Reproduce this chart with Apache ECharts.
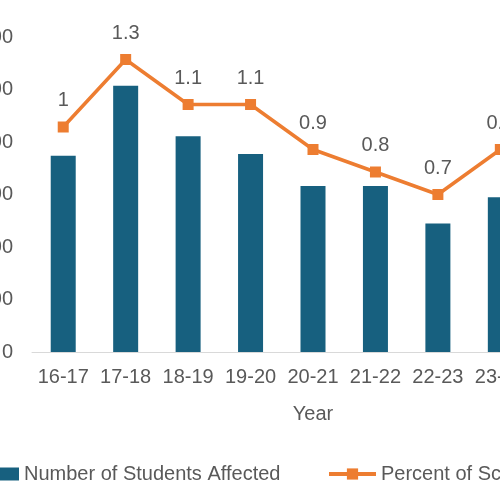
<!DOCTYPE html>
<html>
<head>
<meta charset="utf-8">
<script src="https://cdn.jsdelivr.net/npm/echarts@6/dist/echarts.min.js"></script>
<style>
  html, body { margin: 0; padding: 0; background: #fff; overflow: hidden; }
  #chart { width: 680px; height: 500px; }
</style>
</head>
<body>
<div id="chart"></div>
<script>
// data (24-25 is cropped out of the reference, left empty)
var years = ['16-17', '17-18', '18-19', '19-20', '20-21', '21-22', '22-23', '23-24', '24-25'];
var studentsAffected = [374, 507, 411, 377, 316, 316, 245, 295, null];
var percentMissed = [1, 1.3, 1.1, 1.1, 0.9, 0.8, 0.7, 0.9, null];
var leftTicks = { min: 0, max: 600, interval: 100 };
var rightTicks = { min: 0, max: 1.4, interval: 0.2 };

var textCol = '#595959';
var font = '"Liberation Sans", Arial, sans-serif';

var chart = echarts.init(document.getElementById('chart'));

var option = {
  animation: false,
  textStyle: { fontFamily: font, color: textCol },
  grid: { left: 32, top: 37, width: 562, height: 315, containLabel: false, outerBoundsMode: 'none' },
  legend: [
    {
      data: ['Number of Students Affected'],
      left: -3, top: 464, padding: 0,
      itemWidth: 22, itemHeight: 13,
      icon: 'rect',
      textStyle: { fontFamily: font, fontSize: 20, color: textCol }
    },
    {
      data: ['Percent of School Days Missed'],
      left: 327, top: 464, padding: 0,
      itemWidth: 47, itemHeight: 14,
      lineStyle: { width: 4 },
      textStyle: { fontFamily: font, fontSize: 20, color: textCol }
    }
  ],
  xAxis: {
    type: 'category',
    data: years,
    name: 'Year',
    nameLocation: 'middle',
    nameGap: 52,
    nameTextStyle: { fontFamily: font, fontSize: 20, color: textCol },
    axisLine: { lineStyle: { color: '#d9d9d9', width: 1 } },
    axisTick: { show: false },
    axisLabel: { fontFamily: font, fontSize: 20, color: textCol, margin: 15, interval: 0 }
  },
  yAxis: [
    {
      type: 'value',
      min: leftTicks.min, max: leftTicks.max, interval: leftTicks.interval,
      splitLine: { show: false },
      axisLine: { show: false },
      axisTick: { show: false },
      axisLabel: { fontFamily: font, fontSize: 20, color: textCol, margin: 19 }
    },
    {
      type: 'value',
      position: 'right',
      min: rightTicks.min, max: rightTicks.max, interval: rightTicks.interval,
      splitLine: { show: false },
      axisLine: { show: false },
      axisTick: { show: false },
      axisLabel: { fontFamily: font, fontSize: 20, color: textCol, margin: 20 }
    }
  ],
  series: [
    {
      name: 'Number of Students Affected',
      type: 'bar',
      data: studentsAffected,
      barWidth: 25,
      itemStyle: { color: '#17607f' }
    },
    {
      name: 'Percent of School Days Missed',
      type: 'line',
      yAxisIndex: 1,
      data: percentMissed,
      symbol: 'rect',
      symbolSize: 11,
      lineStyle: { color: '#ed7d31', width: 3.5 },
      itemStyle: { color: '#ed7d31' },
      label: {
        show: true,
        position: 'top',
        distance: 11,
        fontFamily: font,
        fontSize: 20,
        color: textCol
      }
    }
  ]
};

chart.setOption(option);
</script>
</body>
</html>
